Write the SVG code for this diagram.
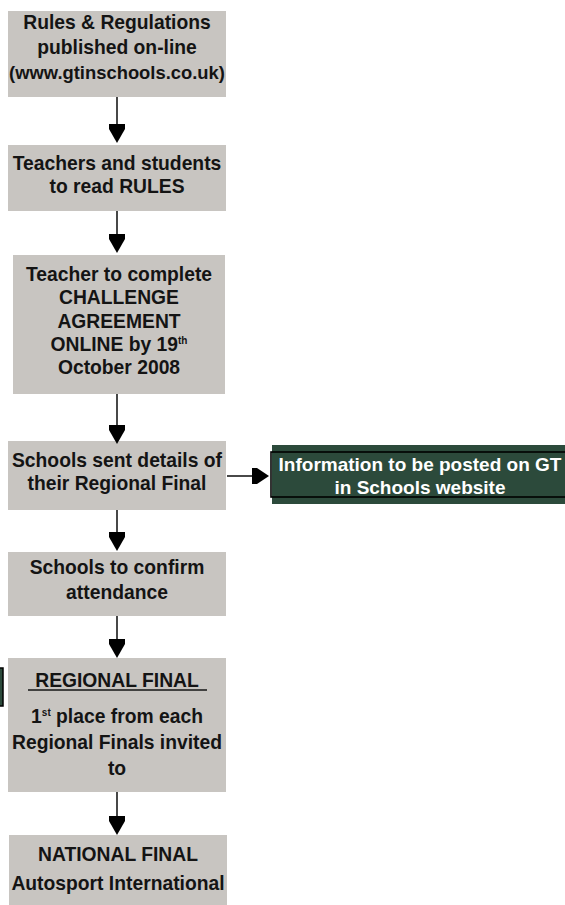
<svg xmlns="http://www.w3.org/2000/svg" width="565" height="905" viewBox="0 0 565 905">
<style>
.box{fill:#c8c5c1}
.gbox{fill:#2c4a3b}
.t{font-family:"Liberation Sans",Arial,sans-serif;font-weight:bold;font-size:19.3px;fill:#141414;text-anchor:middle}
.w{fill:#ffffff;font-size:19px}
.sm{font-size:18.4px}
.sup{font-size:10px}
.ln{stroke:#1a1a1a;stroke-width:1.6;fill:none}
.hd{fill:#000}
</style>
<rect width="565" height="905" fill="#ffffff"/>
<g id="n1">
<rect class="box" x="8" y="11" width="218" height="86"/>
<text class="t" x="117" y="29">Rules &amp; Regulations</text>
<text class="t" x="117" y="54">published on-line</text>
<text class="t sm" x="117" y="79">(www.gtinschools.co.uk)</text>
</g>
<g id="n2">
<rect class="box" x="8" y="145" width="218" height="66"/>
<text class="t" x="117" y="170">Teachers and students</text>
<text class="t" x="117" y="193">to read RULES</text>
</g>
<g id="n3">
<rect class="box" x="13" y="255" width="212" height="139"/>
<text class="t" x="119" y="281">Teacher to complete</text>
<text class="t" x="119" y="304">CHALLENGE</text>
<text class="t" x="119" y="328">AGREEMENT</text>
<text class="t" x="119" y="351">ONLINE by 19<tspan class="sup" dy="-7">th</tspan></text>
<text class="t" x="119" y="374">October 2008</text>
</g>
<g id="n4">
<rect class="box" x="8" y="441" width="218" height="69"/>
<text class="t" x="117" y="467">Schools sent details of</text>
<text class="t" x="117" y="490">their Regional Final</text>
</g>
<g id="n5">
<rect class="gbox" x="272" y="445" width="300" height="59"/>
<rect x="271" y="452" width="310" height="45" fill="none" stroke="#000" stroke-width="1.6"/>
<text class="t w" x="420" y="471">Information to be posted on GT</text>
<text class="t w" x="420" y="494">in Schools website</text>
</g>
<g id="n6">
<rect class="box" x="8" y="552" width="218" height="64"/>
<text class="t" x="117" y="574">Schools to confirm</text>
<text class="t" x="117" y="599">attendance</text>
</g>
<g id="n7">
<rect class="box" x="8" y="658" width="218" height="134"/>
<text class="t" x="117" y="687">REGIONAL FINAL</text>
<line x1="28" y1="690" x2="207" y2="690" stroke="#141414" stroke-width="1.6"/>
<text class="t" x="117" y="723">1<tspan class="sup" dy="-7">st</tspan><tspan dy="7"> place from each</tspan></text>
<text class="t" x="117" y="749">Regional Finals invited</text>
<text class="t" x="117" y="775">to</text>
</g>
<g id="n8">
<rect class="box" x="9" y="835" width="218" height="70"/>
<text class="t" x="118" y="861">NATIONAL FINAL</text>
<text class="t" x="118" y="890">Autosport International</text>
</g>
<g id="edge-stub">
<rect x="-20" y="668" width="23" height="38" fill="#2c4a3b" stroke="#000" stroke-width="1.5"/>
</g>
<g id="connectors">
<line class="ln" x1="117" y1="97" x2="117" y2="126"/>
<polygon class="hd" points="109,124 125,124 125,129 117,143 109,129"/>
<line class="ln" x1="117" y1="211" x2="117" y2="236"/>
<polygon class="hd" points="109,234 125,234 125,239 117,253 109,239"/>
<line class="ln" x1="117" y1="394" x2="117" y2="427"/>
<polygon class="hd" points="109,425 125,425 125,430 117,444 109,430"/>
<line class="ln" x1="117" y1="510" x2="117" y2="534"/>
<polygon class="hd" points="109,532 125,532 125,537 117,551 109,537"/>
<line class="ln" x1="117" y1="616" x2="117" y2="641"/>
<polygon class="hd" points="109,639 125,639 125,644 117,658 109,644"/>
<line class="ln" x1="117" y1="792" x2="117" y2="818"/>
<polygon class="hd" points="109,816 125,816 125,821 117,835 109,821"/>
<line class="ln" x1="227" y1="476" x2="254" y2="476"/>
<polygon class="hd" points="252,468 252,484 257,484 269,476 257,468"/>
</g>
</svg>
